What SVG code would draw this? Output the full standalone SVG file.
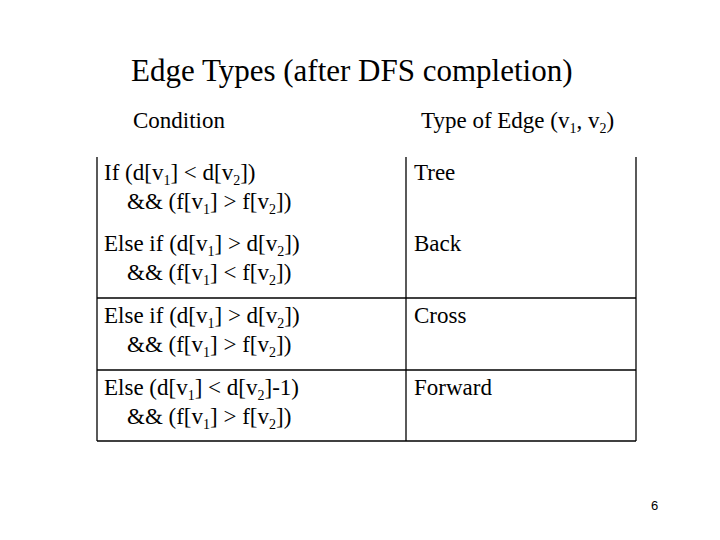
<svg xmlns="http://www.w3.org/2000/svg" width="720" height="540" viewBox="0 0 720 540">
<style>
.t{font-family:'Liberation Serif','DejaVu Serif',serif;fill:#000}
.c{font-size:23px}
.s{font-size:14px}
line{stroke:#000;stroke-width:1.3}
</style>
<rect width="720" height="540" fill="#fff"/>
<g class="t" font-family="Liberation Serif, DejaVu Serif, serif">
<g id="title"><text x="131" y="81" font-size="31">Edge Types (after DFS completion)</text></g>
<g id="headers">
<text x="133" y="128" class="c">Condition</text>
<text x="421" y="128" class="c">Type of Edge (v<tspan class="s" dy="5">1</tspan><tspan dy="-5">, v</tspan><tspan class="s" dy="5">2</tspan><tspan dy="-5">)</tspan></text>
</g>
<g id="row1">
<text x="104" y="180" class="c">If (d[v<tspan class="s" dy="5">1</tspan><tspan dy="-5">] &lt; d[v</tspan><tspan class="s" dy="5">2</tspan><tspan dy="-5">])</tspan></text>
<text x="127" y="209" class="c">&amp;&amp; (f[v<tspan class="s" dy="5">1</tspan><tspan dy="-5">] &gt; f[v</tspan><tspan class="s" dy="5">2</tspan><tspan dy="-5">])</tspan></text>
<text x="414" y="180" class="c">Tree</text>
</g>
<g id="row2">
<text x="104" y="251" class="c">Else if (d[v<tspan class="s" dy="5">1</tspan><tspan dy="-5">] &gt; d[v</tspan><tspan class="s" dy="5">2</tspan><tspan dy="-5">])</tspan></text>
<text x="127" y="280" class="c">&amp;&amp; (f[v<tspan class="s" dy="5">1</tspan><tspan dy="-5">] &lt; f[v</tspan><tspan class="s" dy="5">2</tspan><tspan dy="-5">])</tspan></text>
<text x="414" y="251" class="c">Back</text>
</g>
<g id="row3">
<text x="104" y="323" class="c">Else if (d[v<tspan class="s" dy="5">1</tspan><tspan dy="-5">] &gt; d[v</tspan><tspan class="s" dy="5">2</tspan><tspan dy="-5">])</tspan></text>
<text x="127" y="352" class="c">&amp;&amp; (f[v<tspan class="s" dy="5">1</tspan><tspan dy="-5">] &gt; f[v</tspan><tspan class="s" dy="5">2</tspan><tspan dy="-5">])</tspan></text>
<text x="414" y="323" class="c">Cross</text>
</g>
<g id="row4">
<text x="104" y="395" class="c">Else (d[v<tspan class="s" dy="5">1</tspan><tspan dy="-5">] &lt; d[v</tspan><tspan class="s" dy="5">2</tspan><tspan dy="-5">]-1)</tspan></text>
<text x="127" y="424" class="c">&amp;&amp; (f[v<tspan class="s" dy="5">1</tspan><tspan dy="-5">] &gt; f[v</tspan><tspan class="s" dy="5">2</tspan><tspan dy="-5">])</tspan></text>
<text x="414" y="395" class="c">Forward</text>
</g>
</g>
<g id="grid">
<line x1="97" y1="157" x2="97" y2="441"/>
<line x1="406" y1="157" x2="406" y2="441"/>
<line x1="636" y1="157" x2="636" y2="441"/>
<line x1="97" y1="298" x2="636" y2="298"/>
<line x1="97" y1="370" x2="636" y2="370"/>
<line x1="97" y1="441" x2="636" y2="441"/>
</g>
<g id="page"><text x="651" y="510" font-size="13" font-family="Liberation Sans, Arial, sans-serif">6</text></g>
</svg>
